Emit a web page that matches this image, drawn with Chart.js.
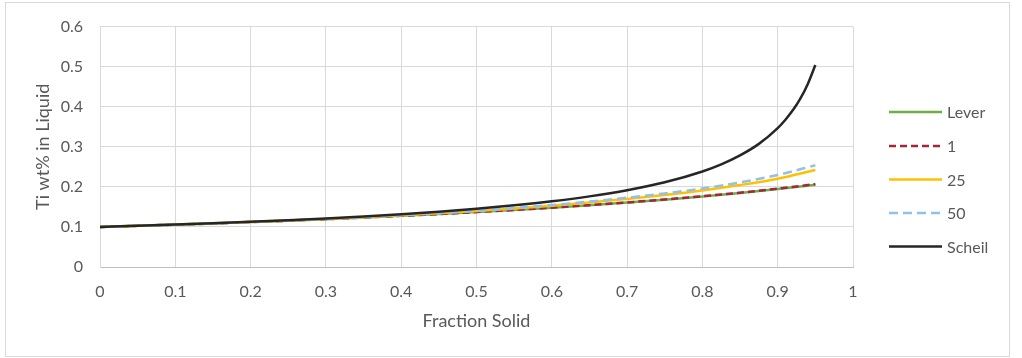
<!DOCTYPE html>
<html>
<head>
<meta charset="utf-8">
<script src="https://cdn.jsdelivr.net/npm/chart.js@4"></script>
<style>
  html, body { margin: 0; padding: 0; background: #fff; }
  #wrap { width: 1022px; height: 358px; position: relative; }
</style>
</head>
<body>
<div id="wrap"><canvas id="c" width="1022" height="358"></canvas></div>
<script>
// ---- data ----
const seriesNames = ['Lever', '1', '25', '50', 'Scheil'];
const fsCommon = [0, 0.05, 0.1, 0.15, 0.2, 0.25, 0.3, 0.35, 0.4, 0.45, 0.5, 0.55, 0.6, 0.65, 0.7, 0.75, 0.8, 0.85, 0.9, 0.95];
const leverVals = [0.1, 0.1028, 0.1057, 0.1088, 0.1121, 0.1156, 0.1193, 0.1233, 0.1276, 0.1321, 0.1370, 0.1423, 0.1479, 0.1541, 0.1608, 0.1681, 0.1761, 0.1848, 0.1946, 0.2053];
const oneVals   = [0.1, 0.1028, 0.1057, 0.1088, 0.1121, 0.1156, 0.1194, 0.1234, 0.1277, 0.1322, 0.1371, 0.1424, 0.1481, 0.1543, 0.1611, 0.1685, 0.1766, 0.1854, 0.1954, 0.2068];
const v25Vals   = [0.1, 0.1028, 0.1058, 0.1090, 0.1123, 0.1160, 0.1199, 0.1242, 0.1289, 0.1339, 0.1395, 0.1460, 0.1529, 0.1608, 0.1700, 0.1798, 0.1911, 0.2045, 0.2204, 0.2420];
const v50Vals   = [0.1, 0.1028, 0.1058, 0.1091, 0.1124, 0.1161, 0.1201, 0.1245, 0.1293, 0.1345, 0.1404, 0.1472, 0.1547, 0.1632, 0.1731, 0.1837, 0.1961, 0.2111, 0.2296, 0.2540];
const fsScheil  = [0, 0.05, 0.1, 0.15, 0.2, 0.25, 0.3, 0.35, 0.4, 0.45, 0.5, 0.55, 0.6, 0.65, 0.7, 0.75, 0.8, 0.825, 0.85, 0.875, 0.9, 0.91, 0.92, 0.925, 0.93, 0.94, 0.95];
const scheilVals= [0.1, 0.1028, 0.1059, 0.1092, 0.1128, 0.1168, 0.1212, 0.1262, 0.1318, 0.1381, 0.1454, 0.1539, 0.1640, 0.1763, 0.1916, 0.2114, 0.2385, 0.2563, 0.2786, 0.3073, 0.3467, 0.3670, 0.3910, 0.4050, 0.4200, 0.4570, 0.5040];
const xTickLabels = ['0', '0.1', '0.2', '0.3', '0.4', '0.5', '0.6', '0.7', '0.8', '0.9', '1'];
const yTickLabels = ['0', '0.1', '0.2', '0.3', '0.4', '0.5', '0.6'];
const xTitle = 'Fraction Solid';
const yTitle = 'Ti wt% in Liquid';

// ---- build ----
function pts(xs, ys) { return xs.map((x, i) => ({ x: x, y: ys[i] })); }
const FONT = 'Lato, "Open Sans", "Liberation Sans", sans-serif';
const TXT = '#595959';

const datasets = [
  { label: seriesNames[0], data: pts(fsCommon, leverVals), borderColor: '#70ad47', borderWidth: 2.5, order: 4 },
  { label: seriesNames[1], data: pts(fsCommon, oneVals), borderColor: '#a3263b', borderWidth: 2.5, borderDash: [7, 4], order: 3 },
  { label: seriesNames[2], data: pts(fsCommon, v25Vals), borderColor: '#ffc000', borderWidth: 2.5, order: 2 },
  { label: seriesNames[3], data: pts(fsCommon, v50Vals), borderColor: '#93c0e4', borderWidth: 2.5, borderDash: [9, 5], order: 1 },
  { label: seriesNames[4], data: pts(fsScheil, scheilVals), borderColor: '#262626', borderWidth: 2.5, order: 0 }
].map(d => Object.assign(d, { pointRadius: 0, fill: false, cubicInterpolationMode: 'monotone', borderCapStyle: 'butt' }));

const frame = {
  id: 'frame',
  beforeDraw(chart) {
    const ctx = chart.ctx;
    ctx.save();
    ctx.fillStyle = '#fff';
    ctx.fillRect(0, 0, chart.width, chart.height);
    ctx.strokeStyle = '#d9d9d9';
    ctx.lineWidth = 1;
    ctx.strokeRect(5.5, 2.5, 1004, 354);
    ctx.restore();
  }
};

const legendPlugin = {
  id: 'customLegend',
  afterDraw(chart) {
    const ctx = chart.ctx;
    const ys = [112, 146, 179.5, 213, 246.5];
    ctx.save();
    chart.data.datasets.forEach((ds, i) => {
      const y = ys[i];
      ctx.beginPath();
      ctx.strokeStyle = ds.borderColor;
      ctx.lineWidth = ds.borderWidth;
      ctx.setLineDash(ds.borderDash || []);
      ctx.moveTo(889, y);
      ctx.lineTo(942, y);
      ctx.stroke();
      ctx.setLineDash([]);
      ctx.fillStyle = TXT;
      ctx.font = '16px ' + FONT;
      ctx.textBaseline = 'middle';
      ctx.textAlign = 'left';
      ctx.fillText(ds.label, 947, y + 1);
    });
    ctx.restore();
  }
};

new Chart(document.getElementById('c'), {
  type: 'line',
  data: { datasets: datasets },
  options: {
    responsive: false,
    animation: false,
    devicePixelRatio: 1,
    layout: { padding: { left: 0, right: 169, top: 24, bottom: 0 } },
    plugins: { legend: { display: false }, tooltip: { enabled: false } },
    scales: {
      x: {
        type: 'linear', min: 0, max: 1,
        afterFit(s) { s.height = 91; },
        grid: { color: '#d9d9d9', drawTicks: false, lineWidth: 1 },
        border: { color: '#bfbfbf', width: 1 },
        ticks: { stepSize: 0.1, padding: 15, color: TXT, font: { family: FONT, size: 16 },
                 maxRotation: 0, autoSkip: false,
                 callback: (v, i) => xTickLabels[i] },
        title: { display: true, text: xTitle, color: TXT, font: { family: FONT, size: 18 }, padding: { top: 0, bottom: 26 } }
      },
      y: {
        type: 'linear', min: 0, max: 0.6,
        afterFit(s) { s.width = 100; },
        grid: { color: '#d9d9d9', drawTicks: false, lineWidth: 1 },
        border: { color: '#d9d9d9', width: 1 },
        ticks: { stepSize: 0.1, padding: 17, color: TXT, font: { family: FONT, size: 16 },
                 callback: (v, i) => yTickLabels[i] },
        title: { display: true, text: yTitle, color: TXT, font: { family: FONT, size: 18 }, padding: { top: 32, bottom: 0 } }
      }
    }
  },
  plugins: [frame, legendPlugin]
});
</script>
</body>
</html>
